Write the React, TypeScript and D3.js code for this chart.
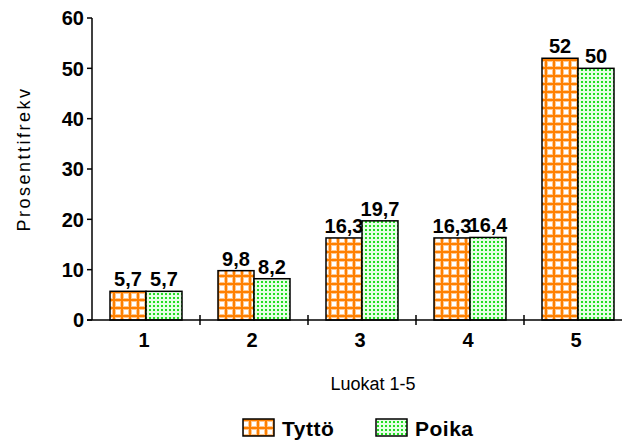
import React from "react";
import * as d3 from "d3";

const categories = ["1", "2", "3", "4", "5"];
const seriesNames = ["Tyttö", "Poika"];
const tyttoValues = [5.7, 9.8, 16.3, 16.3, 52];
const poikaValues = [5.7, 8.2, 19.7, 16.4, 50];
const yTicks = [0, 10, 20, 30, 40, 50, 60];
const yTitle = "Prosenttifrekv";
const xTitle = "Luokat 1-5";

const W = 622;
const H = 444;
const FONT = "'Liberation Sans', Arial, sans-serif";

export default function App() {
  const x = d3
    .scaleBand<string>()
    .domain(categories)
    .range([92, 632])
    .paddingInner(1 / 3)
    .paddingOuter(1 / 6);
  const xs = d3.scaleBand<string>().domain(seriesNames).range([0, x.bandwidth()]);
  const y = d3.scaleLinear().domain([0, 60]).range([320, 18]);
  const fills = ["url(#patOrange)", "url(#patGreen)"];
  const data = [tyttoValues, poikaValues];
  const fmt = (v: number) => String(v).replace(".", ",");
  const step = x.step();
  const boundaries = categories.map((c) => (x(c) as number) - step * (1 / 6));

  return (
    <svg width={W} height={H} style={{ position: "absolute", left: 0, top: 0 }} fontFamily={FONT}>
      <defs>
        <pattern id="patOrange" patternUnits="userSpaceOnUse" width={8} height={8} x={110} y={0}>
          <rect width={8} height={8} fill="#ffffff" />
          <rect x={2} y={0} width={4} height={8} fill="#ffc890" />
          <rect x={0} y={2} width={8} height={4} fill="#ffc890" />
          <rect x={3} y={0} width={2} height={8} fill="#ff8000" />
          <rect x={0} y={3} width={8} height={2} fill="#ff8000" />
        </pattern>
        <pattern id="patGreen" patternUnits="userSpaceOnUse" width={4} height={4}>
          <rect width={4} height={4} fill="#e6ffe6" />
          <rect x={1} y={1} width={2} height={2} fill="#22dd22" />
        </pattern>
      </defs>
      <rect width={W} height={H} fill="#ffffff" />

      {categories.map((c, ci) =>
        seriesNames.map((s, si) => {
          const v = data[si][ci];
          const bx = (x(c) as number) + (xs(s) as number);
          return (
            <g key={c + s}>
              <rect
                x={bx}
                y={y(v)}
                width={xs.bandwidth()}
                height={y(0) - y(v)}
                fill={fills[si]}
                stroke="#000"
                strokeWidth={1.5}
              />
              <text
                x={bx + xs.bandwidth() / 2}
                y={y(v) - 5}
                textAnchor="middle"
                fontSize={20}
                fontWeight="bold"
                fill="#000"
              >
                {fmt(v)}
              </text>
            </g>
          );
        })
      )}

      {/* axes */}
      <line x1={92} x2={92} y1={y(60)} y2={y(0)} stroke="#000" strokeWidth={1.5} />
      <line x1={87} x2={W} y1={y(0)} y2={y(0)} stroke="#000" strokeWidth={1.5} />
      {yTicks.map((t) => (
        <g key={t}>
          <line x1={87} x2={92} y1={y(t)} y2={y(t)} stroke="#000" strokeWidth={1.5} />
          <text x={84} y={y(t)} dy="0.36em" textAnchor="end" fontSize={20} fontWeight="bold">
            {t}
          </text>
        </g>
      ))}
      {boundaries.slice(1).map((b, i) => (
        <line key={i} x1={b} x2={b} y1={y(0) - 5} y2={y(0) + 5} stroke="#000" strokeWidth={1.5} />
      ))}
      {categories.map((c) => (
        <text
          key={c}
          x={(x(c) as number) + x.bandwidth() / 2 - 2}
          y={y(0) + 27}
          textAnchor="middle"
          fontSize={20}
          fontWeight="bold"
        >
          {c}
        </text>
      ))}

      <text
        transform={`translate(30,${159}) rotate(-90)`}
        textAnchor="middle"
        fontSize={18}
        letterSpacing={2.5}
      >
        {yTitle}
      </text>
      <text x={373} y={390} textAnchor="middle" fontSize={18}>
        {xTitle}
      </text>

      {/* legend */}
      {seriesNames.map((s, i) => {
        const lx = [243, 376][i];
        return (
          <g key={s}>
            <rect x={lx} y={419} width={31} height={17} fill={fills[i]} stroke="#000" strokeWidth={1.5} />
            <text x={lx + 39} y={436} fontSize={21} fontWeight="bold" letterSpacing={0.5}>
              {s}
            </text>
          </g>
        );
      })}
    </svg>
  );
}
